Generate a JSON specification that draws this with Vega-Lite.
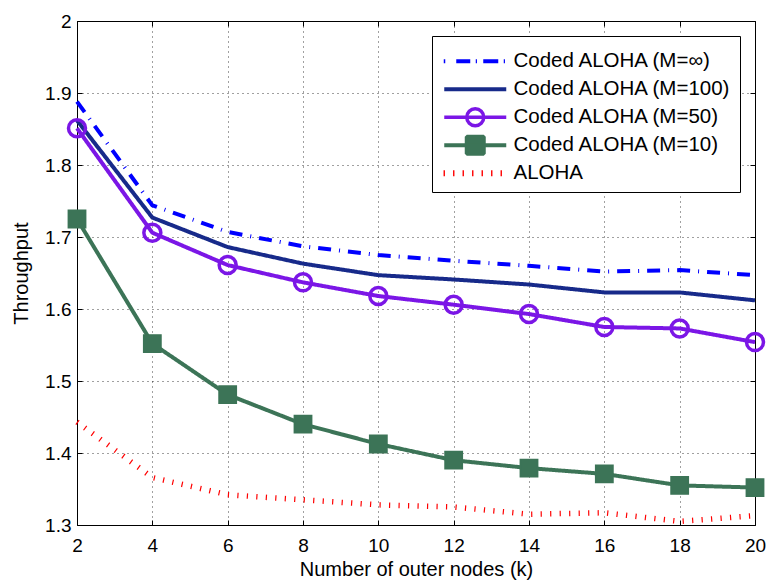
{
  "$schema": "https://vega.github.io/schema/vega-lite/v6.json",
  "width": 678,
  "height": 504,
  "autosize": {"type": "none"},
  "padding": {"left": 77, "top": 21, "right": 11, "bottom": 55},
  "background": "white",
  "config": {
    "view": {"stroke": "#000", "strokeWidth": 1},
    "font": "Liberation Sans",
    "axis": {
      "labelFont": "Liberation Sans",
      "titleFont": "Liberation Sans",
      "labelColor": "#000",
      "titleColor": "#000",
      "tickColor": "#000",
      "labelFontSize": 19,
      "titleFontSize": 20,
      "titleFontWeight": "normal",
      "domain": false,
      "labelFlush": false,
      "labelOverlap": false,
      "labelBound": false,
      "gridColor": "#000",
      "gridDash": [1, 4],
      "gridOpacity": 0.75,
      "gridWidth": 1,
      "tickSize": -5,
      "tickWidth": 1
    },
    "legend": {
      "orient": "none",
      "legendX": 355,
      "legendY": 15,
      "padding": 8,
      "strokeColor": "#000",
      "strokeWidth": 1,
      "fillColor": "white",
      "symbolSize": 400,
      "symbolStrokeWidth": 4,
      "symbolOffset": 25,
      "labelOffset": 28,
      "labelFont": "Liberation Sans",
      "labelFontSize": 20.5,
      "labelColor": "#000",
      "labelLimit": 0,
      "rowPadding": 6,
      "gridAlign": "all",
      "titleFontSize": 2,
      "titlePadding": 5,
      "titleColor": "white",
      "cornerRadius": 0
    }
  },
  "datasets": {
    "d": [
      {"x": 2, "y": 1.888, "series": "Coded ALOHA (M=∞)"},
      {"x": 4, "y": 1.744, "series": "Coded ALOHA (M=∞)"},
      {"x": 6, "y": 1.707, "series": "Coded ALOHA (M=∞)"},
      {"x": 8, "y": 1.687, "series": "Coded ALOHA (M=∞)"},
      {"x": 10, "y": 1.675, "series": "Coded ALOHA (M=∞)"},
      {"x": 12, "y": 1.667, "series": "Coded ALOHA (M=∞)"},
      {"x": 14, "y": 1.660, "series": "Coded ALOHA (M=∞)"},
      {"x": 16, "y": 1.652, "series": "Coded ALOHA (M=∞)"},
      {"x": 18, "y": 1.654, "series": "Coded ALOHA (M=∞)"},
      {"x": 20, "y": 1.647, "series": "Coded ALOHA (M=∞)"},
      {"x": 2, "y": 1.862, "series": "Coded ALOHA (M=100)"},
      {"x": 4, "y": 1.727, "series": "Coded ALOHA (M=100)"},
      {"x": 6, "y": 1.686, "series": "Coded ALOHA (M=100)"},
      {"x": 8, "y": 1.663, "series": "Coded ALOHA (M=100)"},
      {"x": 10, "y": 1.647, "series": "Coded ALOHA (M=100)"},
      {"x": 12, "y": 1.641, "series": "Coded ALOHA (M=100)"},
      {"x": 14, "y": 1.634, "series": "Coded ALOHA (M=100)"},
      {"x": 16, "y": 1.623, "series": "Coded ALOHA (M=100)"},
      {"x": 18, "y": 1.623, "series": "Coded ALOHA (M=100)"},
      {"x": 20, "y": 1.612, "series": "Coded ALOHA (M=100)"},
      {"x": 2, "y": 1.851, "series": "Coded ALOHA (M=50)"},
      {"x": 4, "y": 1.706, "series": "Coded ALOHA (M=50)"},
      {"x": 6, "y": 1.661, "series": "Coded ALOHA (M=50)"},
      {"x": 8, "y": 1.637, "series": "Coded ALOHA (M=50)"},
      {"x": 10, "y": 1.618, "series": "Coded ALOHA (M=50)"},
      {"x": 12, "y": 1.606, "series": "Coded ALOHA (M=50)"},
      {"x": 14, "y": 1.593, "series": "Coded ALOHA (M=50)"},
      {"x": 16, "y": 1.575, "series": "Coded ALOHA (M=50)"},
      {"x": 18, "y": 1.573, "series": "Coded ALOHA (M=50)"},
      {"x": 20, "y": 1.554, "series": "Coded ALOHA (M=50)"},
      {"x": 2, "y": 1.725, "series": "Coded ALOHA (M=10)"},
      {"x": 4, "y": 1.552, "series": "Coded ALOHA (M=10)"},
      {"x": 6, "y": 1.481, "series": "Coded ALOHA (M=10)"},
      {"x": 8, "y": 1.440, "series": "Coded ALOHA (M=10)"},
      {"x": 10, "y": 1.4125, "series": "Coded ALOHA (M=10)"},
      {"x": 12, "y": 1.390, "series": "Coded ALOHA (M=10)"},
      {"x": 14, "y": 1.379, "series": "Coded ALOHA (M=10)"},
      {"x": 16, "y": 1.371, "series": "Coded ALOHA (M=10)"},
      {"x": 18, "y": 1.355, "series": "Coded ALOHA (M=10)"},
      {"x": 20, "y": 1.352, "series": "Coded ALOHA (M=10)"},
      {"x": 2, "y": 1.443, "series": "ALOHA"},
      {"x": 4, "y": 1.366, "series": "ALOHA"},
      {"x": 6, "y": 1.342, "series": "ALOHA"},
      {"x": 8, "y": 1.335, "series": "ALOHA"},
      {"x": 10, "y": 1.328, "series": "ALOHA"},
      {"x": 12, "y": 1.325, "series": "ALOHA"},
      {"x": 14, "y": 1.315, "series": "ALOHA"},
      {"x": 16, "y": 1.317, "series": "ALOHA"},
      {"x": 18, "y": 1.305, "series": "ALOHA"},
      {"x": 20, "y": 1.313, "series": "ALOHA"}
    ]
  },
  "data": {"name": "d"},
  "layer": [
    {
      "transform": [{"filter": "datum.series !== 'ALOHA'"}],
      "mark": {"type": "line", "strokeWidth": 4},
      "encoding": {
        "x": {
          "field": "x", "type": "quantitative",
          "scale": {"domain": [2, 20], "nice": false, "zero": false},
          "axis": {
            "orient": "bottom",
            "values": [2, 4, 6, 8, 10, 12, 14, 16, 18, 20],
            "format": "d",
            "grid": true,
            "labelPadding": 16,
            "title": "Number of outer nodes (k)",
            "titleBaseline": "alphabetic",
            "titleY": 50
          }
        },
        "y": {
          "field": "y", "type": "quantitative",
          "scale": {"domain": [1.3, 2], "nice": false, "zero": false},
          "axis": {
            "orient": "left",
            "values": [1.3, 1.4, 1.5, 1.6, 1.7, 1.8, 1.9, 2],
            "format": ".1~f",
            "grid": true,
            "labelPadding": 11,
            "title": "Throughput",
            "titleAngle": 270,
            "titleBaseline": "alphabetic",
            "titleX": -50,
            "titleY": 252
          }
        },
        "stroke": {
          "field": "series", "type": "nominal",
          "scale": {
            "domain": ["Coded ALOHA (M=∞)", "Coded ALOHA (M=100)", "Coded ALOHA (M=50)", "Coded ALOHA (M=10)", "ALOHA"],
            "range": ["#0000ff", "#172a8a", "#7b16e6", "#3c7457", "#ff0000"]
          },
          "legend": {
            "title": " ",
            "encode": {
              "symbols": {
                "update": {
                  "shape": {"signal": "datum.value === 'ALOHA' ? 'M-3.1,-0.3V0.3M-2.15,-0.3V0.3M-1.2,-0.3V0.3M-0.25,-0.3V0.3M0.7,-0.3V0.3M1.65,-0.3V0.3M2.6,-0.3V0.3' : datum.value === 'Coded ALOHA (M=10)' ? 'M-3.1,0H3.1M-0.85,-0.85H0.85V0.85H-0.85Z' : datum.value === 'Coded ALOHA (M=50)' ? 'M-3.1,0H3.1M0.85,0A0.85,0.85,0,1,1,-0.85,0A0.85,0.85,0,1,1,0.85,0' : datum.value === 'Coded ALOHA (M=100)' ? 'M-3.1,0H3.1' : 'M-3.15,0H-3.0M-1.9,0H-0.5M0.05,0H0.17M0.8,0H2.3M2.85,0H2.97'"},
                  "fill": {"signal": "datum.value === 'Coded ALOHA (M=10)' ? '#3c7457' : 'transparent'"},
                  "strokeWidth": {"signal": "datum.value === 'ALOHA' ? 1.4 : (datum.value === 'Coded ALOHA (M=50)' ? 3.5 : 4)"},
                  "strokeJoin": {"value": "bevel"},
                  "opacity": {"value": 1}
                }
              }
            }
          }
        },
        "strokeDash": {
          "field": "series", "type": "nominal",
          "scale": {
            "domain": ["Coded ALOHA (M=∞)", "Coded ALOHA (M=100)", "Coded ALOHA (M=50)", "Coded ALOHA (M=10)"],
            "range": [[13, 8, 1, 8], [1, 0], [1, 0], [1, 0]]
          },
          "legend": null
        }
      }
    },
    {
      "transform": [{"filter": "datum.series === 'ALOHA'"}],
      "mark": {"type": "line", "strokeWidth": 5.5, "color": "#ff0000", "strokeDash": [1.2, 8.3]},
      "encoding": {
        "x": {
          "field": "x", "type": "quantitative",
          "axis": {"orient": "top", "values": [2, 4, 6, 8, 10, 12, 14, 16, 18, 20], "labels": false, "grid": false, "title": null}
        },
        "y": {
          "field": "y", "type": "quantitative",
          "axis": {"orient": "right", "values": [1.3, 1.4, 1.5, 1.6, 1.7, 1.8, 1.9, 2], "labels": false, "grid": false, "title": null}
        }
      }
    },
    {
      "transform": [{"filter": "datum.series === 'Coded ALOHA (M=50)'"}],
      "mark": {"type": "point", "shape": "circle", "filled": false, "size": 289, "strokeWidth": 3.5, "color": "#7b16e6", "opacity": 1},
      "encoding": {
        "x": {"field": "x", "type": "quantitative", "axis": null},
        "y": {"field": "y", "type": "quantitative", "axis": null}
      }
    },
    {
      "transform": [{"filter": "datum.series === 'Coded ALOHA (M=10)'"}],
      "mark": {"type": "point", "shape": "square", "filled": true, "size": 300, "strokeWidth": 1.5, "color": "#3c7457", "stroke": "#3c7457", "opacity": 1},
      "encoding": {
        "x": {"field": "x", "type": "quantitative", "axis": null},
        "y": {"field": "y", "type": "quantitative", "axis": null}
      }
    }
  ],
  "resolve": {"axis": {"x": "independent", "y": "independent"}}
}
